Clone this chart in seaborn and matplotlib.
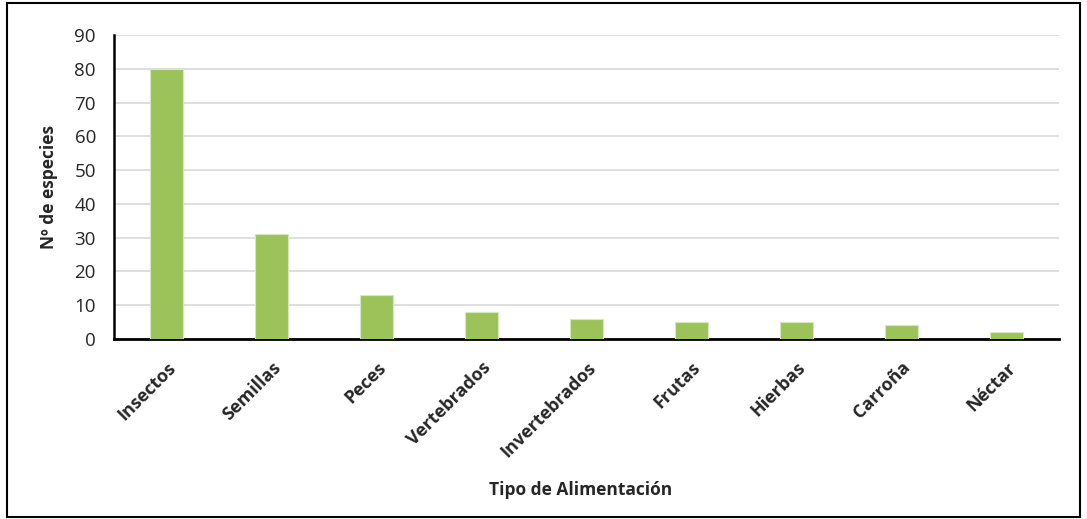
import matplotlib
matplotlib.use("Agg")
import matplotlib.pyplot as plt
import seaborn as sns
import pandas as pd
from matplotlib.patches import Rectangle

categories = ["Insectos", "Semillas", "Peces", "Vertebrados", "Invertebrados",
              "Frutas", "Hierbas", "Carroña", "Néctar"]
values = [80, 31, 13, 8, 6, 5, 5, 4, 2]
yticks = [0, 10, 20, 30, 40, 50, 60, 70, 80, 90]

sns.set_theme(style="white")
plt.rcParams['font.family'] = ['Open Sans', 'DejaVu Sans']

df = pd.DataFrame({"cat": categories, "val": values})

fig = plt.figure(figsize=(10.87, 5.19), dpi=100)
ax = fig.add_axes([0.1049, 0.3468, 0.8694, 0.5858])
sns.barplot(data=df, x="cat", y="val", color="#9BC35A", width=0.31,
            saturation=1, ax=ax, edgecolor="#D7E8BE", linewidth=0.8, zorder=3)

ax.set_ylim(0, 90)
ax.set_xlim(-0.5, len(categories) - 0.5)
ax.set_yticks(yticks)
ax.set_yticklabels([str(t) for t in yticks], fontsize=13.5)
ax.yaxis.grid(True, color="#D9D9D9", linewidth=1.2, zorder=0)
ax.set_axisbelow(True)
for s in ["top", "right"]:
    ax.spines[s].set_visible(False)
ax.spines["left"].set_color("black")
ax.spines["left"].set_linewidth(1.8)
ax.spines["bottom"].set_color("black")
ax.spines["bottom"].set_linewidth(2)
ax.tick_params(axis="y", length=0, pad=13)
ax.tick_params(axis="x", length=0, pad=14)

ax.set_xticks(range(len(categories)))
ax.set_xticklabels(categories, rotation=45, ha="right", va="top",
                   rotation_mode="anchor", fontsize=13, fontweight="bold")
ax.set_ylabel("Nº de especies", fontsize=12.5, fontweight="bold", labelpad=12)
ax.set_xlabel("")
fig.text(0.534, 0.055, "Tipo de Alimentación", ha="center", va="center",
         fontsize=12.5, fontweight="bold")

fig.patches.append(Rectangle((0.006, 0.004), 0.988, 0.99, transform=fig.transFigure,
                             fill=False, edgecolor="black", linewidth=1.5))

fig.savefig("out.png", dpi=100)
